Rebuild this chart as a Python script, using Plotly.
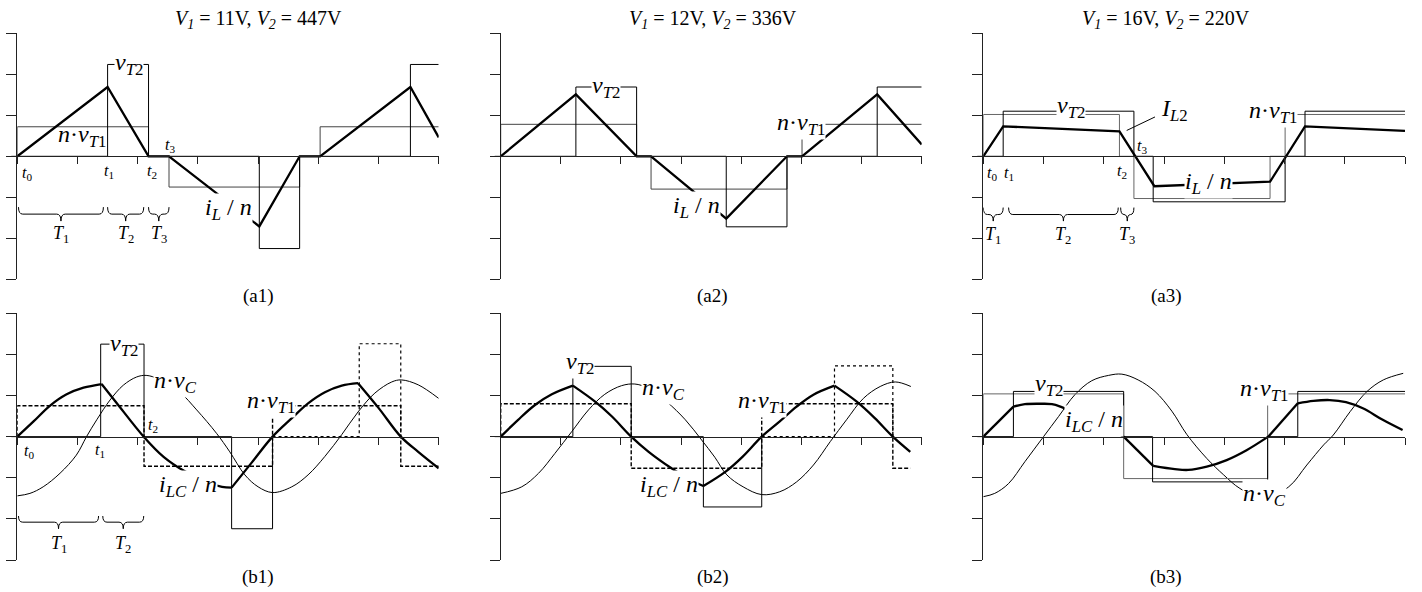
import plotly.graph_objects as go

FONT = "'Liberation Serif', 'Times New Roman', serif"
W, H = 1422, 592

# ---------------------------------------------------------------- data
# Panel titles and tags
TITLES = [
    "<i>V</i><sub><i>1</i></sub> = 11V, <i>V</i><sub><i>2</i></sub> = 447V",
    "<i>V</i><sub><i>1</i></sub> = 12V, <i>V</i><sub><i>2</i></sub> = 336V",
    "<i>V</i><sub><i>1</i></sub> = 16V, <i>V</i><sub><i>2</i></sub> = 220V",
]
TAGS = ["(a1)", "(a2)", "(a3)", "(b1)", "(b2)", "(b3)"]

# (a1)  triangular inductor current and the two bridge voltages
A1_IL_T = [0, 1.50, 2.18, 2.52, 4.02, 4.69, 5.03, 6.53, 7.0]
A1_IL_V = [0, 1.69, 0, 0, -1.71, 0, 0, 1.69, 0.46]
A1_VT2_T = [0, 1.50, 2.18, 4.02, 4.69, 6.53, 7.0]
A1_VT2_V = [0, 2.24, 0, -2.25, 0, 2.24, 2.24]
A1_VT1_T = [0, 0, 2.18, 2.52, 4.69, 5.03, 7.0]
A1_VT1_V = [0, 0.72, 0, -0.75, 0, 0.72, 0.72]

# (a2)
A2_IL_T = [0, 1.25, 2.26, 2.50, 3.75, 4.76, 5.01, 6.26, 7.0]
A2_IL_V = [0, 1.51, 0, 0, -1.52, 0, 0, 1.51, 0.29]
A2_VT2_T = [0, 1.25, 2.26, 3.75, 4.76, 6.26, 7.0]
A2_VT2_V = [0, 1.69, 0, -1.72, 0, 1.69, 1.69]
A2_VT1_T = [0, 0, 2.26, 2.50, 4.76, 5.01, 7.0]
A2_VT1_V = [0, 0.78, 0, -0.80, 0, 0.78, 0.78]

# (a3)
A3_IL_T = [0, 0.33, 2.26, 2.84, 4.76, 5.34, 7.0]
A3_IL_V = [0, 0.73, 0.61, -0.73, -0.62, 0.73, 0.62]
A3_VT2_T = [0, 0.33, 2.50, 2.82, 5.01, 5.34, 7.0]
A3_VT2_V = [0, 1.10, 0, -1.11, 0, 1.10, 1.10]
A3_VT1_T = [0, 0, 2.26, 2.50, 4.76, 5.01, 7.0]
A3_VT1_V = [0, 1.02, 0, -1.03, 0, 1.02, 1.02]

# (b1)  resonant tank current (corner indices split the smooth arcs)
B1_ILC_T = [0, 0.27, 0.54, 0.82, 1.10, 1.40, 1.65, 2.10, 2.43, 2.79, 3.17, 3.40,
            3.56, 3.90, 4.24, 4.56, 4.83, 5.11, 5.39, 5.66, 6.00, 6.37, 6.66, 7.0]
B1_ILC_V = [0, 0.37, 0.75, 1.03, 1.19, 1.28, 0.82, 0, -0.49, -0.85, -1.12, -1.22,
            -1.24, -0.62, 0, 0.45, 0.81, 1.08, 1.24, 1.30, 0.70, 0, -0.37, -0.77]
B1_ILC_CORNERS = [5, 12, 19]
B1_VC_T = [0, 0.21, 0.43, 0.71, 0.98, 1.15, 1.32, 1.54, 1.76, 1.98, 2.14, 2.35, 2.70,
           2.98, 3.31, 3.53, 3.78, 4.00, 4.24, 4.56, 4.83, 5.11, 5.39, 5.66, 5.94,
           6.22, 6.38, 6.66, 7.0]
B1_VC_V = [-1.44, -1.38, -1.22, -0.89, -0.45, 0, 0.41, 0.89, 1.25, 1.45, 1.49, 1.40,
           1.08, 0.65, 0.08, -0.37, -0.93, -1.22, -1.36, -1.22, -0.93, -0.48, 0.05,
           0.60, 1.06, 1.33, 1.38, 1.26, 0.93]
B1_VT2_T = [0, 1.385, 2.105, 3.56, 4.24]
B1_VT2_V = [0, 2.25, 0, -2.24, 0]
B1_VT2B_T = [4.24, 5.68, 6.37]
B1_VT2B_V = [0, 2.26, 0]
B1_VT1_T = [0, 0, 2.105, 4.24, 6.37, 7.0]
B1_VT1_V = [0, 0.75, -0.72, 0.75, -0.72, -0.72]

# (b2)
B2_ILC_T = [0, 0.29, 0.57, 0.85, 1.20, 1.57, 1.85, 2.17, 2.46, 2.84, 3.15, 3.37,
            3.74, 4.02, 4.34, 4.64, 4.92, 5.20, 5.55, 5.92, 6.22, 6.52, 6.81]
B2_ILC_V = [0, 0.41, 0.77, 1.03, 1.24, 0.85, 0.49, 0, -0.37, -0.77, -1.05, -1.20,
            -0.85, -0.49, 0, 0.37, 0.73, 1.02, 1.24, 0.85, 0.45, 0, -0.37]
B2_ILC_CORNERS = [4, 11, 18]
B2_VC_T = [0, 0.35, 0.63, 0.90, 1.18, 1.46, 1.73, 2.01, 2.23, 2.45, 2.76, 3.07, 3.34,
           3.56, 3.76, 4.03, 4.34, 4.64, 4.92, 5.20, 5.48, 5.75, 6.03, 6.31, 6.56, 6.82]
B2_VC_V = [-1.38, -1.22, -0.89, -0.41, 0.12, 0.65, 1.03, 1.24, 1.28, 1.18, 0.85, 0.41,
           -0.08, -0.50, -0.93, -1.22, -1.41, -1.34, -1.10, -0.69, -0.12, 0.41, 0.93,
           1.22, 1.33, 1.22]
B2_VT2_T = [0, 1.20, 2.17, 3.37, 4.34]
B2_VT2_V = [0, 1.71, 0, -1.71, 0]
B2_VT2B_T = [4.34, 5.55, 6.52]
B2_VT2B_V = [0, 1.72, 0]
B2_VT1_T = [0, 0, 2.17, 4.34, 6.52, 6.81]
B2_VT1_V = [0, 0.80, -0.77, 0.80, -0.77, -0.77]

# (b3)
B3_ILC_T = [0, 0.50, 0.69, 0.97, 1.14, 1.30, 1.75, 2.19, 2.33, 2.82, 3.18, 3.40,
            3.71, 4.04, 4.37, 4.73, 5.22, 5.48, 5.75, 6.02, 6.30, 6.63, 6.96]
B3_ILC_V = [0, 0.73, 0.79, 0.80, 0.79, 0.72, 0.45, 0.12, 0, -0.71, -0.79, -0.81,
            -0.73, -0.57, -0.33, 0, 0.81, 0.87, 0.89, 0.84, 0.69, 0.41, 0.16]
B3_ILC_CORNERS = [1, 8, 9, 15, 16]
B3_VC_T = [0, 0.19, 0.42, 0.69, 1.00, 1.25, 1.52, 1.80, 2.08, 2.30, 2.57, 2.85, 3.13,
           3.38, 3.71, 3.99, 4.26, 4.65, 5.07, 5.37, 5.65, 5.81, 6.09, 6.37, 6.64, 6.97]
B3_VC_V = [-1.46, -1.38, -1.14, -0.61, 0, 0.49, 1.02, 1.36, 1.49, 1.52, 1.38, 1.10,
           0.62, 0.05, -0.53, -0.93, -1.26, -1.50, -1.22, -0.69, -0.20, 0.04, 0.61,
           1.10, 1.38, 1.54]
B3_VT2_T = [0, 0.50, 2.33, 2.81, 4.72, 5.22, 7.0]
B3_VT2_V = [0, 1.10, 0, -1.10, 0, 1.10, 1.10]
B3_VT1_T = [0, 0, 2.33, 4.72, 7.0]
B3_VT1_V = [0, 1.04, -1.02, 1.04, 1.04]

# Interval braces (start, end, name)
A1_SPANS = [(0.02, 1.43, "1"), (1.50, 2.10, "2"), (2.18, 2.52, "3")]
A3_SPANS = [(0.00, 0.33, "1"), (0.42, 2.24, "2"), (2.28, 2.50, "3")]
B1_SPANS = [(0.02, 1.35, "1"), (1.42, 2.10, "2")]

# ---------------------------------------------------------------- frames
COLS = [(17.3, 438.7), (500.7, 921.7), (983.3, 1405.0)]
ROWS = [(33.3, 279.3), (313.3, 560.0)]
COL_CENTER = [258, 713, 1166]
TITLE_Y = 19
TAG_Y = [296, 577]
XMAX, YLIM = 7, 3
BIG = 24          # waveform names
SMALL = 16        # time instants

VT2 = "<i>v</i><sub><i>T</i>2</sub>"
NVT1 = "<i>n</i>·<i>v</i><sub><i>T</i>1</sub>"
NVC = "<i>n</i>·<i>v</i><sub><i>C</i></sub>"
IL = "<i>i</i><sub><i>L</i></sub> / <i>n</i>"
ILC = "<i>i</i><sub><i>LC</i></sub> / <i>n</i>"
IL2 = "<i>I</i><sub><i>L</i>2</sub>"


def tsub(k):
    return f"<i>t</i><sub>{k}</sub>"


fig = go.Figure()
layout = {}


def names(k):
    return ("x" if k == 1 else f"x{k}", "y" if k == 1 else f"y{k}")


def frame(k):
    r, c = divmod(k - 1, 3)
    return COLS[c], ROWS[r]


for k in range(1, 7):
    (xl, xr), (yt, yb) = frame(k)
    y0, y1 = 1 - yb / H, 1 - yt / H
    zero = (y0 + y1) / 2
    sfx = "" if k == 1 else str(k)
    layout["xaxis" + sfx] = dict(
        domain=[xl / W, xr / W], range=[0, XMAX], anchor="free", position=zero,
        showline=True, linecolor="#222", linewidth=1, ticks="outside", ticklen=7,
        tickwidth=1, tickcolor="#222", tickvals=list(range(XMAX + 1)),
        showticklabels=False, showgrid=False, zeroline=False, fixedrange=True)
    layout["yaxis" + sfx] = dict(
        domain=[y0, y1], range=[-YLIM, YLIM], anchor=names(k)[0],
        showline=True, linecolor="#222", linewidth=1, ticks="outside", ticklen=10,
        tickwidth=1, tickcolor="#222", tickvals=list(range(-YLIM, YLIM + 1)),
        showticklabels=False, showgrid=False, zeroline=False, fixedrange=True)

fig.update_layout(**layout)

shapes = []
annotations = []


def add_line(k, t, v, width=1.0, color="black", dash=None, shape="linear"):
    xn, yn = names(k)
    fig.add_trace(go.Scatter(
        x=t, y=v, mode="lines", xaxis=xn, yaxis=yn, hoverinfo="skip",
        showlegend=False,
        line=dict(color=color, width=width, dash=dash, shape=shape)))


def add_steps(k, t, v, width=1.0, color="black", dash=None):
    add_line(k, t, v, width, color, dash, "hv")


def add_smooth(k, t, v, corners, width):
    cuts = [0] + list(corners) + [len(t) - 1]
    for a, b in zip(cuts[:-1], cuts[1:]):
        seg_t, seg_v = t[a:b + 1], v[a:b + 1]
        add_line(k, seg_t, seg_v, width, shape="spline" if len(seg_t) > 2 else "linear")


def label(k, text, x, y, size=BIG, bg=True):
    xn, yn = names(k)
    annotations.append(dict(
        text=text, x=x, y=y, xref=xn, yref=yn, showarrow=False,
        xanchor="center", yanchor="middle",
        font=dict(family=FONT, size=size, color="black"),
        bgcolor="white" if bg else "rgba(0,0,0,0)", borderpad=0))


def braces(k, spans, ytop, ymid, ybot, ylab, r=0.07):
    xn, yn = names(k)
    for x0, x1, n in spans:
        xm = (x0 + x1) / 2
        rr = min(r, (x1 - x0) / 4)
        path = (f"M {x0},{ytop} Q {x0},{ymid} {x0 + rr},{ymid} L {xm - rr},{ymid} "
                f"Q {xm},{ymid} {xm},{ybot} Q {xm},{ymid} {xm + rr},{ymid} "
                f"L {x1 - rr},{ymid} Q {x1},{ymid} {x1},{ytop}")
        shapes.append(dict(type="path", path=path, xref=xn, yref=yn,
                           line=dict(color="black", width=1)))
        label(k, f"<i>T</i><sub>{n}</sub>", xm, ylab, size=18, bg=False)


# ---------------------------------------------------------------- (a1)
add_steps(1, A1_VT1_T, A1_VT1_V, color="#444")
add_steps(1, A1_VT2_T, A1_VT2_V)
add_line(1, A1_IL_T, A1_IL_V, width=2.3)
label(1, VT2, 1.85, 2.26)
label(1, NVT1, 1.08, 0.50, bg=False)
label(1, IL, 3.50, -1.28)
for txt, x, y in [(tsub(0), 0.16, -0.42), (tsub(1), 1.53, -0.37),
                  (tsub(2), 2.24, -0.38), (tsub(3), 2.54, 0.27)]:
    label(1, txt, x, y, size=SMALL, bg=False)
braces(1, A1_SPANS, -1.24, -1.41, -1.58, -1.90)

# ---------------------------------------------------------------- (a2)
add_steps(2, A2_VT1_T, A2_VT1_V, color="#444")
add_steps(2, A2_VT2_T, A2_VT2_V)
add_line(2, A2_IL_T, A2_IL_V, width=2.3)
label(2, VT2, 1.75, 1.69)
label(2, NVT1, 5.00, 0.78)
label(2, IL, 3.26, -1.24)

# ---------------------------------------------------------------- (a3)
add_steps(3, A3_VT1_T, A3_VT1_V, color="#666")
add_steps(3, A3_VT2_T, A3_VT2_V)
add_line(3, A3_IL_T, A3_IL_V, width=2.3)
label(3, VT2, 1.45, 1.20)
label(3, IL2, 3.17, 1.12, bg=False)
shapes.append(dict(type="line", xref="x3", yref="y3", x0=2.38, y0=0.63, x1=2.85,
                   y1=0.96, line=dict(color="black", width=1)))
label(3, NVT1, 4.81, 1.08)
label(3, IL, 3.74, -0.65)
for txt, x, y in [(tsub(0), 0.14, -0.42), (tsub(1), 0.42, -0.41),
                  (tsub(2), 2.30, -0.38), (tsub(3), 2.63, 0.25)]:
    label(3, txt, x, y, size=SMALL, bg=False)
braces(3, A3_SPANS, -1.25, -1.42, -1.58, -1.93)

# ---------------------------------------------------------------- (b1)
add_line(4, B1_VC_T, B1_VC_V, width=1.0, shape="spline")
add_steps(4, B1_VT2_T, B1_VT2_V)
add_steps(4, B1_VT2B_T, B1_VT2B_V, dash="dot", width=1.2)
add_steps(4, B1_VT1_T, B1_VT1_V, dash="4px,2px", width=1.4)
add_smooth(4, B1_ILC_T, B1_ILC_V, B1_ILC_CORNERS, 2.3)
label(4, VT2, 1.77, 2.22)
label(4, NVC, 2.63, 1.33)
label(4, NVT1, 4.21, 0.85)
label(4, ILC, 2.83, -1.20)
for txt, x, y in [(tsub(0), 0.20, -0.37), (tsub(1), 1.37, -0.33),
                  (tsub(2), 2.26, 0.26)]:
    label(4, txt, x, y, size=SMALL, bg=False)
braces(4, B1_SPANS, -1.93, -2.08, -2.24, -2.63)

# ---------------------------------------------------------------- (b2)
add_line(5, B2_VC_T, B2_VC_V, width=1.0, shape="spline")
add_steps(5, B2_VT2_T, B2_VT2_V)
add_steps(5, B2_VT2B_T, B2_VT2B_V, dash="dot", width=1.2)
add_steps(5, B2_VT1_T, B2_VT1_V, dash="4px,2px", width=1.4)
add_smooth(5, B2_ILC_T, B2_ILC_V, B2_ILC_CORNERS, 2.3)
label(5, VT2, 1.32, 1.79)
label(5, NVC, 2.71, 1.15)
label(5, NVT1, 4.35, 0.85)
label(5, ILC, 2.79, -1.20)

# ---------------------------------------------------------------- (b3)
add_line(6, B3_VC_T, B3_VC_V, width=1.0, shape="spline")
add_steps(6, B3_VT1_T, B3_VT1_V, color="#666")
add_steps(6, B3_VT2_T, B3_VT2_V)
add_smooth(6, B3_ILC_T, B3_ILC_V, B3_ILC_CORNERS, 2.3)
label(6, VT2, 1.09, 1.26)
label(6, ILC, 1.83, 0.37)
label(6, NVT1, 4.66, 1.14)
label(6, NVC, 4.67, -1.41)

# axis-end time labels and short stubs of the time axis left of the origin
for k in range(1, 7):
    label(k, "<i>t</i>", 7.02, -0.43, size=SMALL + 1, bg=False)
    (xl, xr), (yt, yb) = frame(k)
    yz = 1 - (yt + yb) / 2 / H
    shapes.append(dict(type="line", xref="paper", yref="paper", x0=(xl - 6) / W,
                       x1=xl / W, y0=yz, y1=yz, line=dict(color="#222", width=1)))

# column titles and panel tags
for c in range(3):
    annotations.append(dict(text=TITLES[c], x=COL_CENTER[c] / W, y=1 - TITLE_Y / H,
                            xref="paper", yref="paper", showarrow=False,
                            xanchor="center", yanchor="middle",
                            font=dict(family=FONT, size=20, color="black")))
for i, tag in enumerate(TAGS):
    r, c = divmod(i, 3)
    annotations.append(dict(text=tag, x=COL_CENTER[c] / W, y=1 - TAG_Y[r] / H,
                            xref="paper", yref="paper", showarrow=False,
                            xanchor="center", yanchor="middle",
                            font=dict(family=FONT, size=19, color="black")))

fig.update_layout(
    width=W, height=H, autosize=False, margin=dict(l=0, r=0, t=0, b=0),
    paper_bgcolor="white", plot_bgcolor="white", showlegend=False,
    shapes=shapes, annotations=annotations)

fig.write_html("out.html")
